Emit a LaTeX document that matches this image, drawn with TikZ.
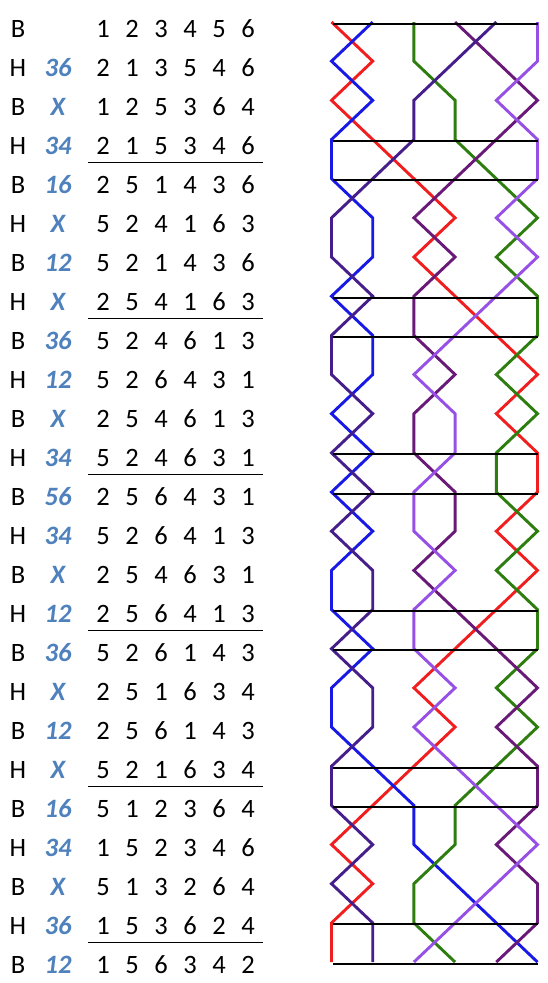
\documentclass[tikz,border=0pt]{standalone}
\usepackage{fontspec}
\setmainfont{Carlito}
\usetikzlibrary{calc}

\definecolor{callblue}{RGB}{79,129,189}
\definecolor{ringred}{RGB}{240,30,30}
\definecolor{ringblue}{RGB}{25,25,230}
\definecolor{ringgreen}{RGB}{45,125,15}
\definecolor{ringpurple}{RGB}{105,25,120}
\definecolor{ringindigo}{RGB}{70,30,140}
\definecolor{ringlilac}{RGB}{150,80,230}

\newcommand{\tablefont}{\fontsize{26.5}{30}\selectfont}
\newcommand{\change}[6]{\makebox[29pt]{#1}\makebox[29pt]{#2}\makebox[29pt]{#3}\makebox[29pt]{#4}\makebox[29pt]{#5}\makebox[29pt]{#6}}

\tikzset{
  hbmark/.style={anchor=base, inner sep=0pt, font=\tablefont},
  call/.style={anchor=base, inner sep=0pt, text=callblue, font=\tablefont\bfseries\itshape},
  rowbox/.style={anchor=base, inner sep=0pt, font=\tablefont},
  leadend/.style={line width=1pt},
  changeline/.style={line width=2pt},
  bell1/.style={draw=ringred, line width=2.9pt},
  bell2/.style={draw=ringblue, line width=2.9pt},
  bell3/.style={draw=ringgreen, line width=2.9pt},
  bell4/.style={draw=ringpurple, line width=2.9pt},
  bell5/.style={draw=ringindigo, line width=2.9pt},
  bell6/.style={draw=ringlilac, line width=2.9pt},
}

\begin{document}
\begin{tikzpicture}[x=1pt, y=-1pt]
\fill[white] (0,0) rectangle (548,983);
\useasboundingbox (0,0) rectangle (548,983);

\foreach \hb/\pn/\chg [count=\i] in {B//123456, H/36/213546, B/X/125364, H/34/215346,
  B/16/251436, H/X/524163, B/12/521436, H/X/254163,
  B/36/524613, H/12/526431, B/X/254613, H/34/524631,
  B/56/256431, H/34/526413, B/X/254631, H/12/256413,
  B/36/526143, H/X/251634, B/12/256143, H/X/521634,
  B/16/512364, H/34/152346, B/X/513264, H/36/153624,
  B/12/156342}
{
  \node[hbmark] (hb\i) at (18, {37+39*(\i-1)}) {\hb};
  \node[call] (pn\i) at (58, {37+39*(\i-1)}) {\pn};
  \node[rowbox] (row\i) at (175.5, {37+39*(\i-1)}) {\expandafter\change\chg};
}

\foreach \i in {4,8,...,24}
  \draw[leadend] ($(row\i.base west)+(0,8.5)$) -- ($(row\i.base east)+(0,8.5)$);

\foreach \b/\places in {
  1/{2,1,2,3,4,3,4,5,6,5,6,6,5,6,5,4,3,4,3,2,1,2,1,1},
  2/{1,2,1,1,2,2,1,2,2,1,2,1,2,1,1,2,1,1,2,3,3,4,5,6},
  3/{3,4,4,5,6,5,6,6,5,6,5,5,6,5,6,6,5,6,5,4,4,3,3,4},
  4/{5,6,5,4,3,4,3,3,4,3,3,4,4,3,4,5,6,5,6,6,5,6,6,5},
  5/{4,3,3,2,1,1,2,1,1,2,1,2,1,2,2,1,2,2,1,1,2,1,2,2},
  6/{6,5,6,6,5,6,5,4,3,4,4,3,3,4,3,3,4,3,4,5,6,5,4,3}}
  \draw[bell\b] ({331.5+41.2*(\b-1)}, 22) \foreach \p [count=\r from 2] in \places {-- ({331.5+41.2*(\p-1)}, {22+39.17*(\r-1)})};

\foreach \r in {1,4,5,8,9,12,13,16,17,20,21,24,25}
  \draw[changeline] (333, {23.5+39.17*(\r-1)}) -- (538, {23.5+39.17*(\r-1)});
\end{tikzpicture}
\end{document}
